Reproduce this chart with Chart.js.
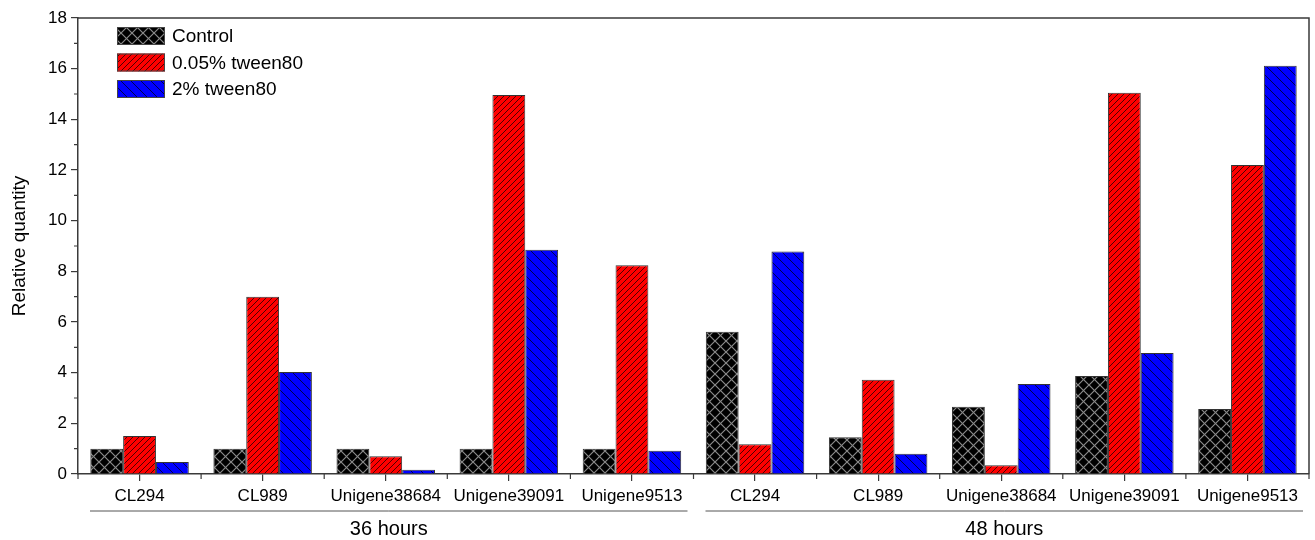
<!DOCTYPE html>
<html>
<head>
<meta charset="utf-8">
<title>Relative quantity</title>
<script src="https://cdn.jsdelivr.net/npm/chart.js"></script>
<style>
  html, body { margin: 0; padding: 0; background: #fff; overflow: hidden; }
  #wrap { width: 1315px; height: 540px; }
</style>
</head>
<body>
<div id="wrap"><canvas id="chart" width="1315" height="540"></canvas></div>
<script>
// data
const genes = ['CL294', 'CL989', 'Unigene38684', 'Unigene39091', 'Unigene9513',
               'CL294', 'CL989', 'Unigene38684', 'Unigene39091', 'Unigene9513'];
const groups = ['36 hours', '48 hours'];
const seriesNames = ['Control', '0.05% tween80', '2% tween80'];
const control = [1.0, 1.0, 1.0, 1.0, 1.0, 5.62, 1.45, 2.65, 3.87, 2.57];
const tween005 = [1.5, 7.0, 0.7, 14.96, 8.24, 1.17, 3.72, 0.35, 15.05, 12.2];
const tween2 = [0.47, 4.03, 0.17, 8.85, 0.92, 8.78, 0.8, 3.55, 4.78, 16.12];
const yTicks = [0, 2, 4, 6, 8, 10, 12, 14, 16, 18];

const FONT = '"Liberation Sans", Arial, sans-serif';
const AXIS = '#3a3a3a';

// hatch fills
function hatch(bg, line, size, dirs, lw) {
  const c = document.createElement('canvas');
  c.width = size; c.height = size;
  const g = c.getContext('2d');
  g.fillStyle = bg;
  g.fillRect(0, 0, size, size);
  g.strokeStyle = line;
  g.lineWidth = lw;
  dirs.forEach(d => {
    g.beginPath();
    if (d === '/') {
      g.moveTo(-1, size + 1); g.lineTo(size + 1, -1);
      g.moveTo(-1, 1); g.lineTo(1, -1);
      g.moveTo(size - 1, size + 1); g.lineTo(size + 1, size - 1);
    } else {
      g.moveTo(-1, -1); g.lineTo(size + 1, size + 1);
      g.moveTo(size - 1, -1); g.lineTo(size + 1, 1);
      g.moveTo(-1, size - 1); g.lineTo(1, size + 1);
    }
    g.stroke();
  });
  return g.createPattern(c, 'repeat');
}

const ctx = document.getElementById('chart').getContext('2d');
const fills = [
  hatch('#000000', '#8a8a8a', 11, ['/', '\\'], 1.2),
  hatch('#ff0000', '#3a0000', 6, ['/'], 0.9),
  hatch('#0000ff', '#00003a', 10, ['\\'], 0.9)
];

// frame, minor ticks, group labels, legend
const extras = {
  id: 'extras',
  afterDraw(chart) {
    const { ctx: g, chartArea: a, scales } = chart;
    const x = scales.x, y = scales.y;
    g.save();
    g.strokeStyle = AXIS;
    g.lineWidth = 1.5;
    g.beginPath();
    g.moveTo(a.left, a.top); g.lineTo(a.right, a.top); g.lineTo(a.right, a.bottom);
    g.stroke();

    g.lineWidth = 1.2;
    const step = x.getPixelForValue(1) - x.getPixelForValue(0);
    g.beginPath();
    for (let i = 0; i <= genes.length; i++) {
      const px = x.getPixelForValue(0) - step / 2 + i * step;
      g.moveTo(px, a.bottom); g.lineTo(px, a.bottom + 5);
    }
    for (let v = 1; v < 18; v += 2) {
      const py = y.getPixelForValue(v);
      g.moveTo(a.left, py); g.lineTo(a.left - 4, py);
    }
    g.stroke();

    // group brackets
    g.strokeStyle = '#555';
    g.lineWidth = 1;
    g.fillStyle = '#000';
    g.font = '20px ' + FONT;
    g.textAlign = 'center';
    g.textBaseline = 'middle';
    groups.forEach((name, k) => {
      const x0 = x.getPixelForValue(k * 5) - step / 2 + 12;
      const x1 = x.getPixelForValue(k * 5 + 4) + step / 2 - 6;
      g.beginPath();
      g.moveTo(x0, 511); g.lineTo(x1, 511);
      g.stroke();
      g.fillText(name, (x0 + x1) / 2, 529);
    });

    // legend
    g.font = '19px ' + FONT;
    g.textAlign = 'left';
    chart.data.datasets.forEach((ds, i) => {
      const top = 27 + i * 26.5;
      g.fillStyle = ds.backgroundColor;
      g.fillRect(117, top, 48, 18);
      g.strokeStyle = '#444';
      g.lineWidth = 1;
      g.strokeRect(117.5, top + 0.5, 47, 17);
      g.fillStyle = '#000';
      g.fillText(ds.label, 172, top + 10);
    });
    g.restore();
  }
};

const seriesData = [control, tween005, tween2];

new Chart(ctx, {
  type: 'bar',
  data: {
    labels: genes,
    datasets: seriesNames.map((name, i) => ({
      label: name,
      data: seriesData[i],
      backgroundColor: fills[i],
      borderColor: '#333',
      borderWidth: 1,
      categoryPercentage: 0.8,
      barPercentage: 1.0
    }))
  },
  options: {
    responsive: false,
    animation: false,
    layout: { padding: { top: 18, right: 6, left: 0, bottom: 0 } },
    plugins: { legend: { display: false }, tooltip: { enabled: false } },
    scales: {
      x: {
        grid: { display: true, drawOnChartArea: false, offset: false, drawTicks: true, tickLength: 7, color: AXIS, lineWidth: 1.2 },
        border: { display: true, color: AXIS, width: 1.5 },
        ticks: { color: '#000', font: { family: FONT, size: 17 }, padding: 5, maxRotation: 0, autoSkip: false },
        afterFit(s) { s.height = 66; }
      },
      y: {
        min: 0,
        max: 18,
        afterBuildTicks(s) { s.ticks = yTicks.map(v => ({ value: v })); },
        grid: { display: true, drawOnChartArea: false, drawTicks: true, tickLength: 7, color: AXIS, lineWidth: 1.2 },
        border: { display: true, color: AXIS, width: 1.5 },
        ticks: { color: '#000', font: { family: FONT, size: 17 }, padding: 4 },
        title: { display: true, text: 'Relative quantity', color: '#000', font: { family: FONT, size: 19 }, padding: { top: 8, bottom: 4 } },
        afterFit(s) { s.width = 78; }
      }
    }
  },
  plugins: [extras]
});
</script>
</body>
</html>
